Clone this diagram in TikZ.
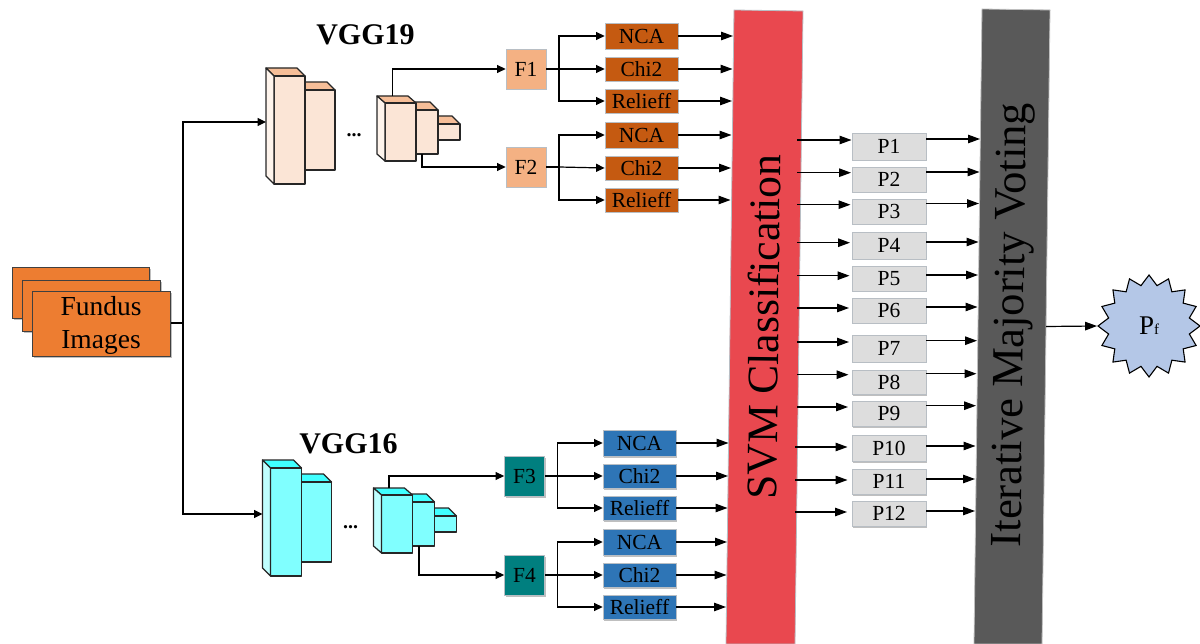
\documentclass[tikz,border=0pt]{standalone}
\usepackage{fontspec}
\setmainfont{Liberation Serif}
\usetikzlibrary{arrows.meta,shadows,shapes.geometric,calc}
\definecolor{fbox}{HTML}{F4B183}
\definecolor{tealbox}{HTML}{007F7F}
\definecolor{brownbox}{HTML}{C55A11}
\definecolor{bluebox}{HTML}{2E75B6}
\definecolor{greybox}{HTML}{DDDDDD}
\definecolor{redband}{HTML}{E9484F}
\definecolor{darkband}{HTML}{595959}
\definecolor{orangebox}{HTML}{ED7D31}
\definecolor{starfill}{HTML}{B4C7E7}
\definecolor{pfront}{HTML}{FBE5D6}
\definecolor{ptop}{HTML}{F6BE98}
\definecolor{pleft}{HTML}{FEF4EC}
\definecolor{cfront}{HTML}{80FFFF}
\definecolor{ctop}{HTML}{40FFFF}
\definecolor{cleft}{HTML}{BFFFFF}
\definecolor{edgegrey}{HTML}{B8BEC4}
\tikzset{
  softshadow/.style={drop shadow={shadow xshift=1pt,shadow yshift=-1.5pt,opacity=.25,fill=black}},
  anybox/.style={draw=edgegrey,line width=.8pt,inner sep=0pt,font=\fontsize{21.5}{23}\selectfont,softshadow},
  fnode/.style={anybox,minimum width=40pt,minimum height=40pt},
  selbrown/.style={anybox,fill=brownbox,minimum width=73pt},
  selblue/.style={anybox,fill=bluebox,minimum width=73pt},
  pnode/.style={anybox,fill=greybox,minimum width=74pt},
  stackbox/.style={draw=black!75,line width=1.1pt,fill=orangebox,anchor=north west,inner sep=0pt,softshadow},
  conn/.style={draw=black,line width=1.2pt},
  tipsmall/.style={conn,-{Triangle[length=8.5pt,width=8pt]}},
  tiplarge/.style={conn,-{Triangle[length=12pt,width=8.5pt]}},
  title/.style={font=\bfseries\fontsize{30}{32}\selectfont},
  bandlabel/.style={font=\fontsize{43.5}{45}\selectfont,inner sep=0pt},
  cube/.style={draw=black!85,line width=1.25pt,line join=round},
}
% front box: x1,y1,x2,y2 ; depth dx,dy ; colours set through \cF \cT \cL
\newcommand{\myblock}[6]{%
  \fill[\cT] (#1-#5,#2-#6) -- (#3-#5,#2-#6) -- (#3,#2) -- (#1,#2) -- cycle;
  \draw[cube] (#1-#5,#2-#6) -- (#3-#5,#2-#6) -- (#3,#2) -- (#1,#2) -- cycle;
  \draw[cube,fill=\cF] (#1,#2) rectangle (#3,#4);
}
\newcommand{\myleft}[5]{%
  \draw[cube,fill=\cL] (#1-#4,#2-#5) -- (#1,#2) -- (#1,#3) -- (#1-#4,#3-#5) -- cycle;
}
\newcommand{\network}{%
  \myblock{305}{90}{335}{170}{8}{8}
  \myblock{274}{76}{305}{184}{8}{8}
  \myleft{274}{76}{184}{8}{8}
  \myblock{438}{124}{460}{140}{8}{8}
  \myblock{416}{110}{438}{154}{8}{8}
  \myblock{385}{103}{416}{161}{8}{7}
  \myleft{385}{103}{161}{8}{7}
}
\begin{document}
\begin{tikzpicture}[x=1pt,y=-1pt]
\useasboundingbox (0,0) rectangle (1200,644);

% bands
\draw[draw=edgegrey,line width=.8pt,fill=redband] (734,10) -- (803,11) -- (795,644) -- (726,644) -- cycle;
\draw[draw=black!25,line width=.8pt,fill=darkband] (982,9) -- (1050,10) -- (1042,644) -- (974,644) -- cycle;
\node[bandlabel,rotate=89.3] (svm) at (763.5,327) {SVM Classification};
\node[bandlabel,rotate=89.3,font=\fontsize{44.5}{46}\selectfont] (imv) at (1013.5,325) {Iterative Majority Voting};

% input stack
\node[stackbox,minimum width=137pt,minimum height=51pt] (st1) at (12,267) {};
\node[stackbox,minimum width=138pt,minimum height=51pt] (st2) at (22,280) {};
\node[stackbox,minimum width=138pt,minimum height=65pt] (fundus) at (32,291) {};
\node[align=center,inner sep=0pt,font=\fontsize{27.5}{33.5}\selectfont] (fundustext) at (101,325.5) {Fundus\\Images};

% networks
\begin{scope}
  \def\cF{pfront}\def\cT{ptop}\def\cL{pleft}
  \network
\end{scope}
\begin{scope}[shift={(-3.5,392)}]
  \def\cF{cfront}\def\cT{ctop}\def\cL{cleft}
  \network
\end{scope}
\coordinate (n19in) at (266,122);
\coordinate (n16in) at (262.5,514);
\coordinate (n19a) at (392.5,96);
\coordinate (n19b) at (422,154);
\coordinate (n16a) at (389,488);
\coordinate (n16b) at (419,546);
\coordinate (trunk) at (183,323);

\node[title] (vgg19) at (365.5,35) {VGG19};
\node[title] (vgg16) at (348.5,444) {VGG16};
\node[font=\bfseries\fontsize{20}{22}\selectfont,anchor=base,inner sep=0pt] (dots19) at (354,136.5) {...};
\node[font=\bfseries\fontsize{20}{22}\selectfont,anchor=base,inner sep=0pt] (dots16) at (350.5,528.5) {...};

% feature nodes
\node[fnode,fill=fbox] (F1) at (526,69) {F1};
\node[fnode,fill=fbox] (F2) at (526,167) {F2};
\node[fnode,fill=tealbox] (F3) at (524.5,476) {F3};
\node[fnode,fill=tealbox] (F4) at (524.5,575) {F4};

% selectors
\foreach \n/\lab/\sty/\cx/\cy/\h in {
  s1/NCA/selbrown/641.5/36/26, s2/Chi2/selbrown/641.5/69/24, s3/Relieff/selbrown/641.5/101/24,
  s4/NCA/selbrown/641.5/135/26, s5/Chi2/selbrown/641.5/168/24, s6/Relieff/selbrown/641.5/200/24,
  s7/NCA/selblue/639.5/443/26, s8/Chi2/selblue/639.5/476/24, s9/Relieff/selblue/639.5/508/24,
  s10/NCA/selblue/639.5/542/26, s11/Chi2/selblue/639.5/575/24, s12/Relieff/selblue/639.5/607/24}{
  \node[\sty,minimum height=\h pt] (\n) at (\cx,\cy) {\lab};
}

% P nodes
\foreach \i/\cy/\h in {1/146.5/27,2/179.5/25,3/211.5/25,4/245.5/27,5/278.5/25,6/310.5/25,7/348.5/27,8/382/24,9/413.5/25,10/448/26,11/481.5/25,12/513.5/25}{
  \node[pnode,minimum height=\h pt] (P\i) at (889,\cy) {P\i};
}

% star
\node[star,star points=16,star point ratio=1.24,draw=black,line width=1.1pt,fill=starfill,minimum size=102pt,inner sep=0pt] (Pf) at (1149,326) {\fontsize{27}{29}\selectfont P\fontsize{15}{17}\selectfont f};

% connectors from the input
\draw[conn] (fundus.east |- trunk) -- (trunk);
\draw[tipsmall] (trunk) |- (n19in);
\draw[tipsmall] (trunk) |- (n16in);

% network outputs
\draw[tipsmall] (n19a) |- (F1.west);
\draw[tipsmall] (n19b) |- (F2.west);
\draw[tipsmall] (n16a) |- (F3.west);
\draw[tipsmall] (n16b) |- (F4.west);

% feature to selector
\foreach \f/\a/\b/\c/\tx in {F1/s1/s2/s3/559,F2/s4/s5/s6/559,F3/s7/s8/s9/557.5,F4/s10/s11/s12/557.5}{
  \coordinate (tr) at (\tx,0);
  \draw[conn] (\f.east) -- (tr |- \f.east);
  \draw[tipsmall] (tr |- \f.east) -- (\b.west);
  \draw[tipsmall] (tr |- \f.east) -- (tr |- \a.west) -- (\a.west);
  \draw[tipsmall] (tr |- \f.east) -- (tr |- \c.west) -- (\c.west);
}

% selector to SVM band
\foreach \n/\tip in {s1/733,s2/732.5,s3/732,s4/731.5,s5/731,s6/730.5,s7/728.5,s8/728,s9/727.5,s10/727,s11/726.5,s12/726}{
  \coordinate (e\n) at (\tip,0);
  \draw[tiplarge] (\n.east) -- (e\n |- \n.east);
}

% SVM to P, P to voting
\foreach \i/\y/\ys/\ya/\yb/\xb in {
  1/140/139/797/851.5/980,
  2/172.7/172/797/851/979.5,
  3/204.7/203.5/797/850.5/979,
  4/242.7/242/797/850/978.5,
  5/275.7/275/797/849.5/978,
  6/308/307/797/849/977.5,
  7/342/340.7/797/849/977,
  8/374.7/373.7/797/848.5/976.5,
  9/407/405.7/797/848/976,
  10/447/446/795/847.5/975.5,
  11/480/479/795/847.5/975,
  12/512/511/795/847/975}{
  \coordinate (ca\i) at (\ya,\y);
  \coordinate (cb\i) at (\yb,\y);
  \coordinate (cc\i) at (\xb,\ys);
  \draw[tiplarge] (ca\i) -- (cb\i);
  \draw[tiplarge] (P\i.east |- cc\i) -- (cc\i);
}

% voting to result
\coordinate (vout) at (1046,326.5);
\draw[tiplarge] (vout) -- (Pf.west);
\end{tikzpicture}
\end{document}
